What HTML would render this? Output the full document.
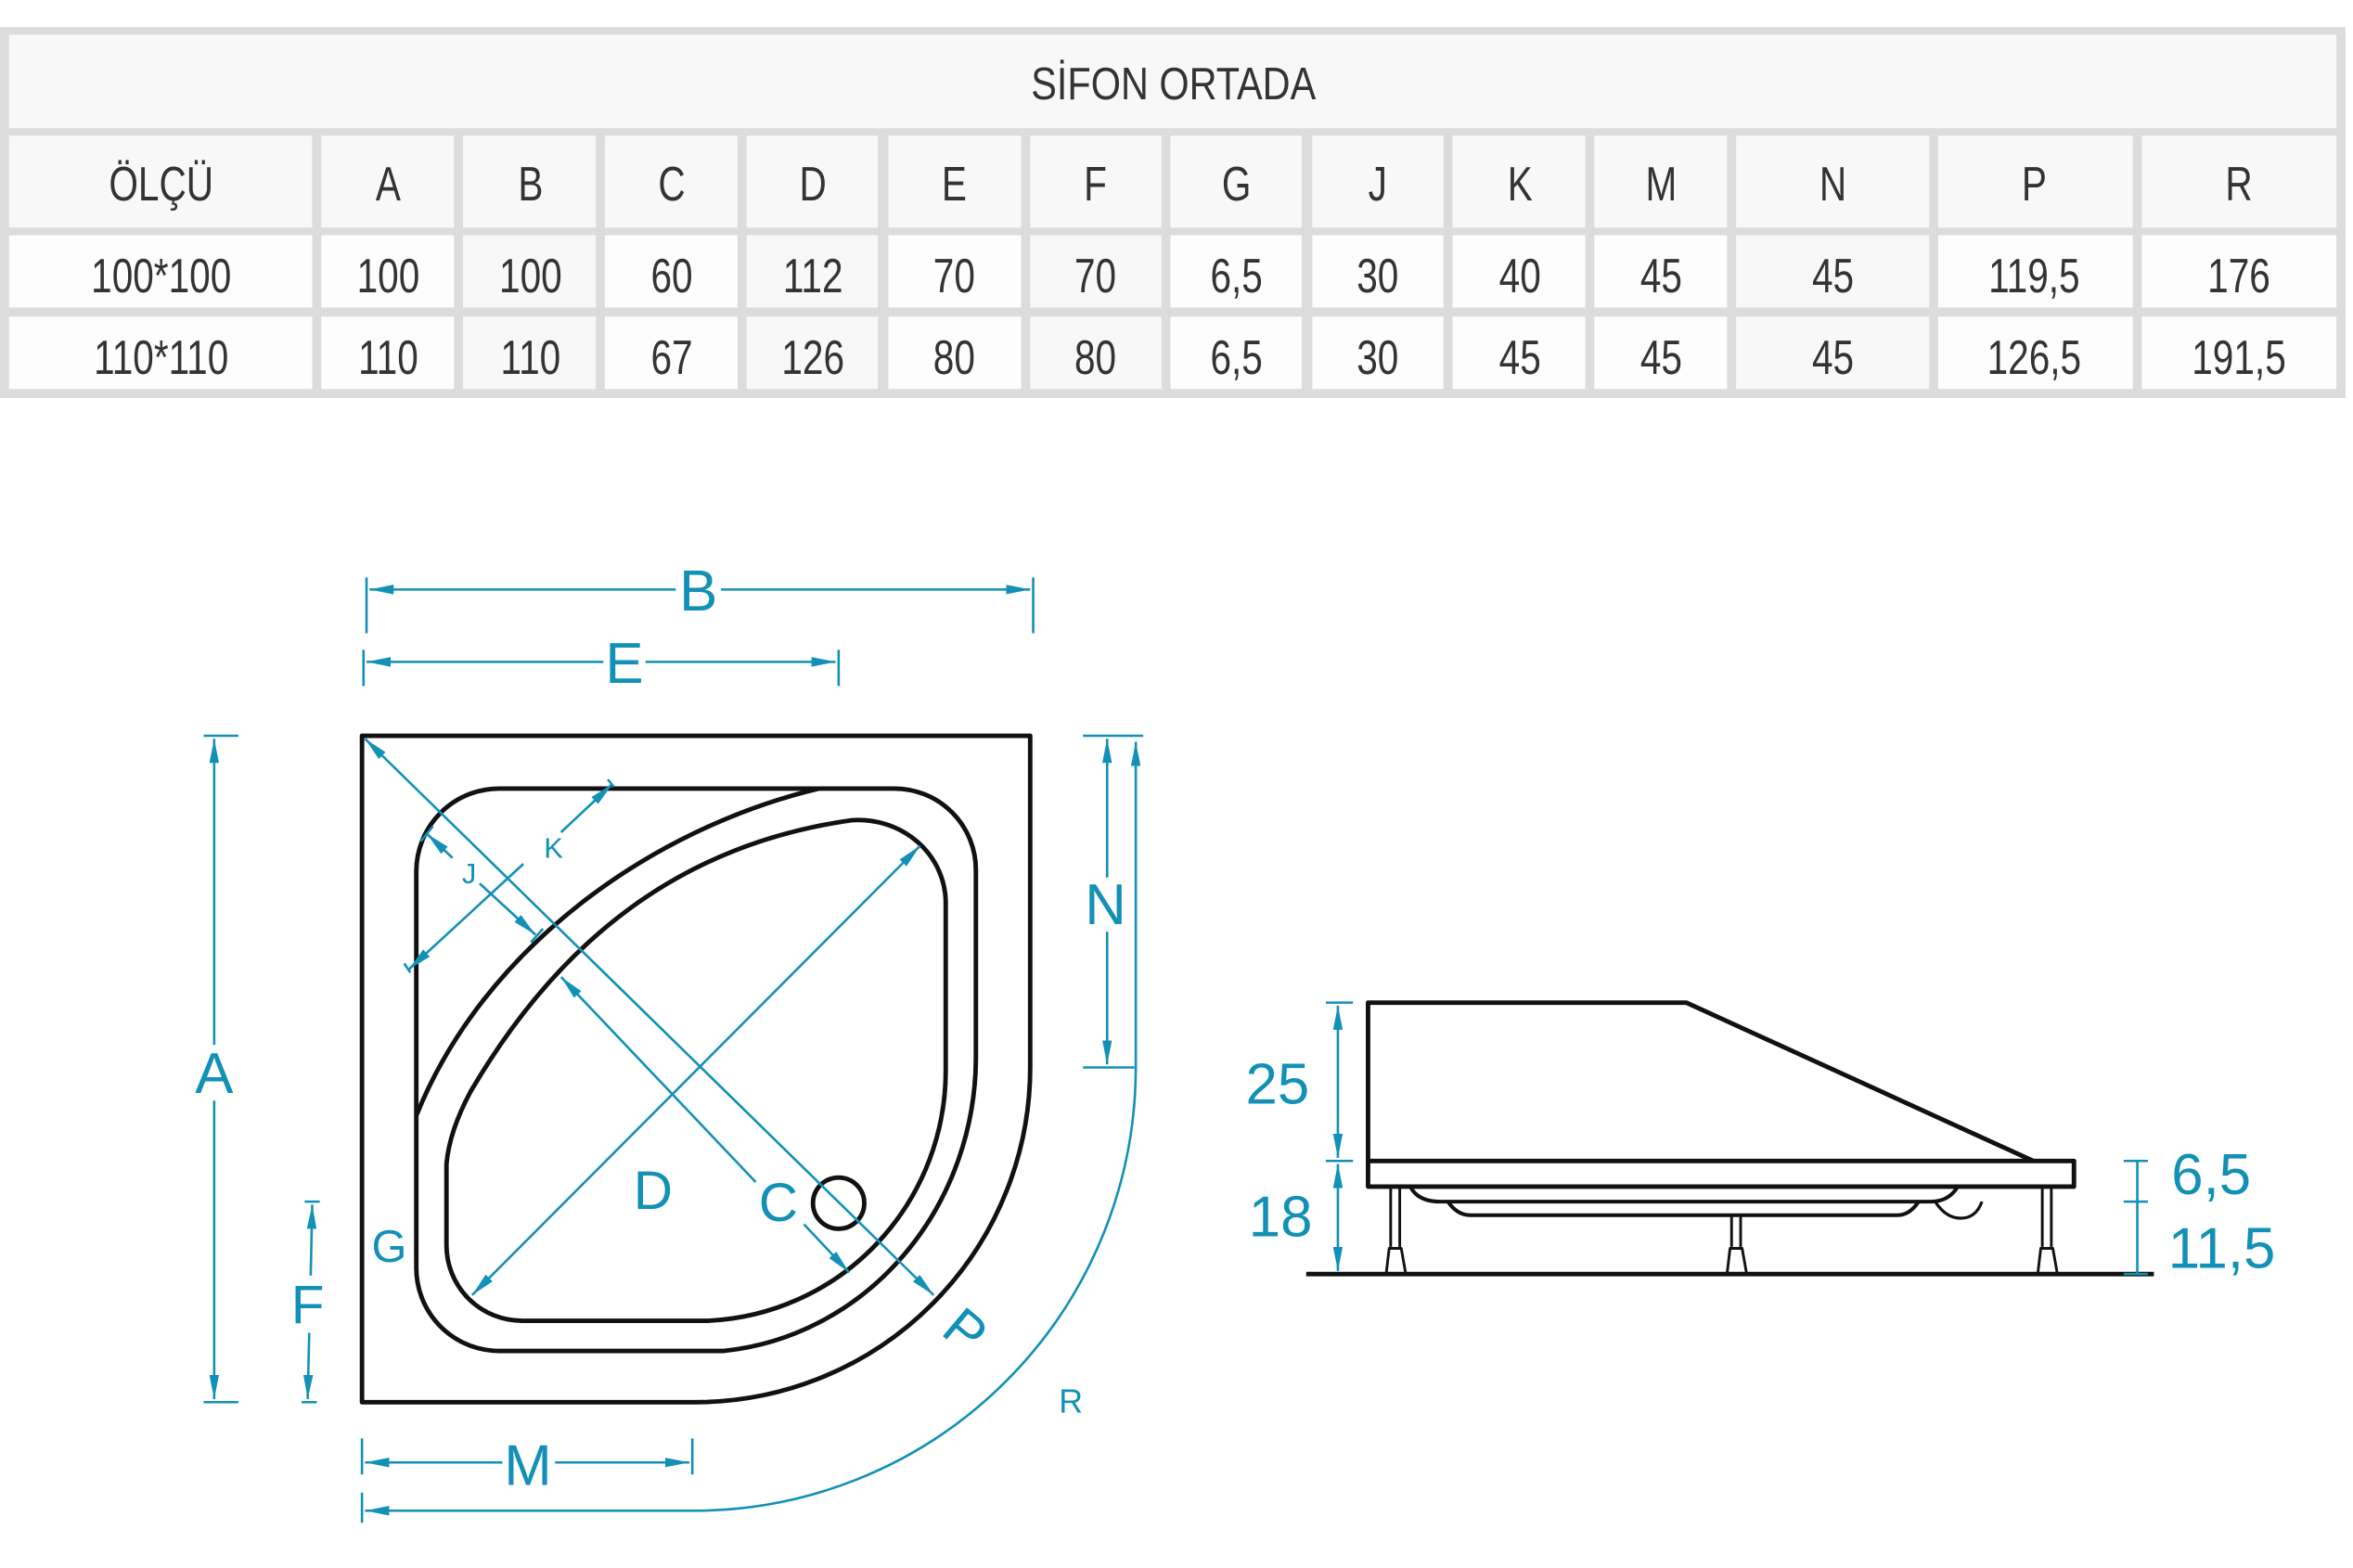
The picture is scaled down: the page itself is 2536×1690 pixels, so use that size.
<!DOCTYPE html>
<html><head><meta charset="utf-8">
<style>
html,body{margin:0;padding:0;background:#fff;}
svg{display:block;}
</style></head>
<body>
<svg width="2536" height="1690" viewBox="0 0 1560 1040" preserveAspectRatio="none" xmlns="http://www.w3.org/2000/svg">
<defs>
<marker id="ar" viewBox="0 0 20 8" refX="20" refY="4" markerWidth="16" markerHeight="7" markerUnits="userSpaceOnUse" orient="auto-start-reverse">
<path d="M0,0 L20,4 L0,8 Z" fill="#1290b6"/>
</marker>
</defs>
<!-- TABLE -->
<rect x="0" y="18" width="1555" height="246" fill="#dcdcdd"/>
<rect x="6" y="23" width="1543" height="62" fill="#f8f8f8"/>
<g fill="#f8f8f8">
<rect x="6" y="90" width="201" height="61"/><rect x="213" y="90" width="88" height="61"/><rect x="307" y="90" width="88" height="61"/><rect x="401" y="90" width="88" height="61"/><rect x="495" y="90" width="87" height="61"/><rect x="589" y="90" width="88" height="61"/><rect x="683" y="90" width="87" height="61"/><rect x="776" y="90" width="87" height="61"/><rect x="870" y="90" width="87" height="61"/><rect x="963" y="90" width="88" height="61"/><rect x="1057" y="90" width="88" height="61"/><rect x="1151" y="90" width="128" height="61"/><rect x="1285" y="90" width="129" height="61"/><rect x="1420" y="90" width="129" height="61"/>
</g>
<g fill="#fdfdfd">
<rect x="6" y="156" width="201" height="48"/><rect x="213" y="156" width="88" height="48"/><rect x="307" y="156" width="88" height="48" fill="#f8f8f8"/><rect x="401" y="156" width="88" height="48"/><rect x="495" y="156" width="87" height="48" fill="#f8f8f8"/><rect x="589" y="156" width="88" height="48"/><rect x="683" y="156" width="87" height="48" fill="#f8f8f8"/><rect x="776" y="156" width="87" height="48"/><rect x="870" y="156" width="87" height="48"/><rect x="963" y="156" width="88" height="48"/><rect x="1057" y="156" width="88" height="48"/><rect x="1151" y="156" width="128" height="48" fill="#f8f8f8"/><rect x="1285" y="156" width="129" height="48"/><rect x="1420" y="156" width="129" height="48"/>
<rect x="6" y="210" width="201" height="48"/><rect x="213" y="210" width="88" height="48"/><rect x="307" y="210" width="88" height="48" fill="#f8f8f8"/><rect x="401" y="210" width="88" height="48"/><rect x="495" y="210" width="87" height="48" fill="#f8f8f8"/><rect x="589" y="210" width="88" height="48"/><rect x="683" y="210" width="87" height="48" fill="#f8f8f8"/><rect x="776" y="210" width="87" height="48"/><rect x="870" y="210" width="87" height="48"/><rect x="963" y="210" width="88" height="48"/><rect x="1057" y="210" width="88" height="48"/><rect x="1151" y="210" width="128" height="48" fill="#f8f8f8"/><rect x="1285" y="210" width="129" height="48"/><rect x="1420" y="210" width="129" height="48"/>
</g>
<g font-family="Liberation Sans, sans-serif" fill="#333" text-anchor="middle">
<text x="778" y="66" font-size="30" transform="translate(778 0) scale(0.85 1) translate(-778 0)">SİFON ORTADA</text>
<g font-size="32" transform="scale(0.78 1)">
<text x="137" y="133">ÖLÇÜ</text>
<text x="330" y="133">A</text><text x="451" y="133">B</text><text x="571" y="133">C</text><text x="691" y="133">D</text><text x="811" y="133">E</text><text x="931" y="133">F</text><text x="1051" y="133">G</text><text x="1171" y="133">J</text><text x="1292" y="133">K</text><text x="1412" y="133">M</text><text x="1558" y="133">N</text><text x="1729" y="133">P</text><text x="1903" y="133">R</text>
<text x="137" y="194">100*100</text>
<text x="330" y="194">100</text><text x="451" y="194">100</text><text x="571" y="194">60</text><text x="691" y="194">112</text><text x="811" y="194">70</text><text x="931" y="194">70</text><text x="1051" y="194">6,5</text><text x="1171" y="194">30</text><text x="1292" y="194">40</text><text x="1412" y="194">45</text><text x="1558" y="194">45</text><text x="1729" y="194">119,5</text><text x="1903" y="194">176</text>
<text x="137" y="248">110*110</text>
<text x="330" y="248">110</text><text x="451" y="248">110</text><text x="571" y="248">67</text><text x="691" y="248">126</text><text x="811" y="248">80</text><text x="931" y="248">80</text><text x="1051" y="248">6,5</text><text x="1171" y="248">30</text><text x="1292" y="248">45</text><text x="1412" y="248">45</text><text x="1558" y="248">45</text><text x="1729" y="248">126,5</text><text x="1903" y="248">191,5</text>
</g>
</g>

<!-- PLAN VIEW black -->
<g fill="none" stroke="#111" stroke-width="3" stroke-linejoin="round">
<path d="M240,488 H683 V708 A222 222 0 0 1 460 930 H240 Z"/>
<path d="M331,523 H593 A54 54 0 0 1 647 577 V700 A185 196 0 0 1 480 896 H331 A55 55 0 0 1 276 841 V578 A55 55 0 0 1 331 523 Z"/>
<path d="M543,523 C430,550 320,630 276,740"/>
<path d="M296,826 V772 Q298,750 312,724 C370,625 450,560 565,544 A58 55 0 0 1 627 598 V710 A165 166 0 0 1 470 876 H346 A50 50 0 0 1 296 826 Z"/>
<circle cx="556" cy="798" r="17"/>
</g>

<!-- PLAN dims blue -->
<g stroke="#1290b6" stroke-width="1.6" fill="none">
<line x1="243" y1="383" x2="243" y2="420"/><line x1="685" y1="383" x2="685" y2="420"/>
<line x1="245" y1="391" x2="448" y2="391" marker-start="url(#ar)"/><line x1="478" y1="391" x2="683" y2="391" marker-end="url(#ar)"/>
<line x1="241" y1="431" x2="241" y2="455"/><line x1="556" y1="431" x2="556" y2="455"/>
<line x1="243" y1="439" x2="400" y2="439" marker-start="url(#ar)"/><line x1="428" y1="439" x2="554" y2="439" marker-end="url(#ar)"/>
<line x1="135" y1="488" x2="158" y2="488"/><line x1="135" y1="930" x2="158" y2="930"/>
<line x1="142" y1="490" x2="142" y2="693" marker-start="url(#ar)"/><line x1="142" y1="730" x2="142" y2="928" marker-end="url(#ar)"/>
<line x1="202" y1="797" x2="212" y2="797"/><line x1="200" y1="930" x2="210" y2="930"/>
<line x1="207" y1="799" x2="206" y2="846" marker-start="url(#ar)"/><line x1="205" y1="884" x2="204" y2="928" marker-end="url(#ar)"/>
<line x1="718" y1="488" x2="758" y2="488"/><line x1="718" y1="708" x2="752" y2="708"/>
<line x1="734" y1="490" x2="734" y2="582" marker-start="url(#ar)"/><line x1="734" y1="618" x2="734" y2="706" marker-end="url(#ar)"/>
<path d="M753,492 V708 A293 294 0 0 1 460 1002 H242" marker-start="url(#ar)" marker-end="url(#ar)"/>
<line x1="240" y1="990" x2="240" y2="1010"/>
<line x1="240" y1="954" x2="240" y2="978"/><line x1="459" y1="954" x2="459" y2="978"/>
<line x1="242" y1="970" x2="333" y2="970" marker-start="url(#ar)"/><line x1="368" y1="970" x2="457" y2="970" marker-end="url(#ar)"/>
<line x1="242" y1="490" x2="619" y2="859" marker-start="url(#ar)" marker-end="url(#ar)"/>
<line x1="313" y1="859" x2="610" y2="561" marker-start="url(#ar)" marker-end="url(#ar)"/>
<line x1="372" y1="648" x2="501" y2="784" marker-start="url(#ar)"/>
<line x1="533" y1="812" x2="563" y2="844" marker-end="url(#ar)"/>
<line x1="271" y1="643" x2="347" y2="573" marker-start="url(#ar)"/><line x1="372" y1="552" x2="406" y2="520" marker-end="url(#ar)"/>
<line x1="268" y1="639" x2="272" y2="645"/><line x1="403" y1="517" x2="407" y2="522"/>
<line x1="283" y1="553" x2="300" y2="569" marker-start="url(#ar)"/>
<line x1="318" y1="586" x2="355" y2="620" marker-end="url(#ar)"/>
<line x1="279" y1="558" x2="287" y2="548"/><line x1="352" y1="625" x2="360" y2="616"/>
</g>
<g font-family="Liberation Sans, sans-serif" fill="#1290b6" text-anchor="middle">
<text x="463" y="405" font-size="38">B</text>
<text x="414" y="453" font-size="38">E</text>
<text x="142" y="725" font-size="38">A</text>
<text x="204" y="878" font-size="36">F</text>
<text x="733" y="613" font-size="38">N</text>
<text x="350" y="985" font-size="38">M</text>
<text x="258" y="837" font-size="30">G</text>
<text x="433" y="802" font-size="36">D</text>
<text x="516" y="810" font-size="36">C</text>
<text x="710" y="937" font-size="22">R</text>
<text x="367" y="569" font-size="19">K</text>
<text x="311" y="586" font-size="19">J</text>
<text x="0" y="0" font-size="36" transform="translate(632 892) rotate(40)">P</text>
</g>

<!-- SIDE VIEW -->
<g fill="none" stroke="#111" stroke-width="3" stroke-linejoin="round">
<path d="M907,770 V665 H1118 L1348,770"/>
<rect x="907" y="770" width="468" height="17"/>
<line x1="866" y1="845" x2="1428" y2="845"/>
<path d="M935,787 Q940,797 955,797 H1280 Q1292,797 1298,787" stroke-width="2.5"/>
<path d="M960,797 Q966,806 975,806 H1258 Q1266,806 1272,797" stroke-width="2.5"/>
<path d="M1283,797 Q1290,808 1300,808 Q1310,808 1314,797" stroke-width="2"/>
<g stroke-width="1.8">
<line x1="922" y1="787" x2="922" y2="827"/><line x1="928" y1="787" x2="928" y2="827"/>
<path d="M919,845 L921,828 H929 L932,845"/>
<line x1="1148" y1="806" x2="1148" y2="827"/><line x1="1154" y1="806" x2="1154" y2="827"/>
<path d="M1145,845 L1147,828 H1155 L1158,845"/>
<line x1="1354" y1="787" x2="1354" y2="827"/><line x1="1360" y1="787" x2="1360" y2="827"/>
<path d="M1351,845 L1353,828 H1361 L1364,845"/>
</g>
</g>
<g stroke="#1290b6" stroke-width="1.6" fill="none">
<line x1="879" y1="665" x2="897" y2="665"/><line x1="879" y1="770" x2="897" y2="770"/>
<line x1="887" y1="667" x2="887" y2="768" marker-start="url(#ar)" marker-end="url(#ar)"/>
<line x1="887" y1="772" x2="887" y2="843" marker-start="url(#ar)" marker-end="url(#ar)"/>
<line x1="1408" y1="770" x2="1424" y2="770"/><line x1="1408" y1="797" x2="1424" y2="797"/><line x1="1408" y1="845" x2="1424" y2="845"/>
<line x1="1417" y1="770" x2="1417" y2="845"/>
</g>
<g font-family="Liberation Sans, sans-serif" fill="#1290b6" text-anchor="middle" font-size="38">
<text x="847" y="732">25</text>
<text x="849" y="820">18</text>
<text x="1466" y="792">6,5</text>
<text x="1473" y="841">11,5</text>
</g>
</svg>
</body></html>
